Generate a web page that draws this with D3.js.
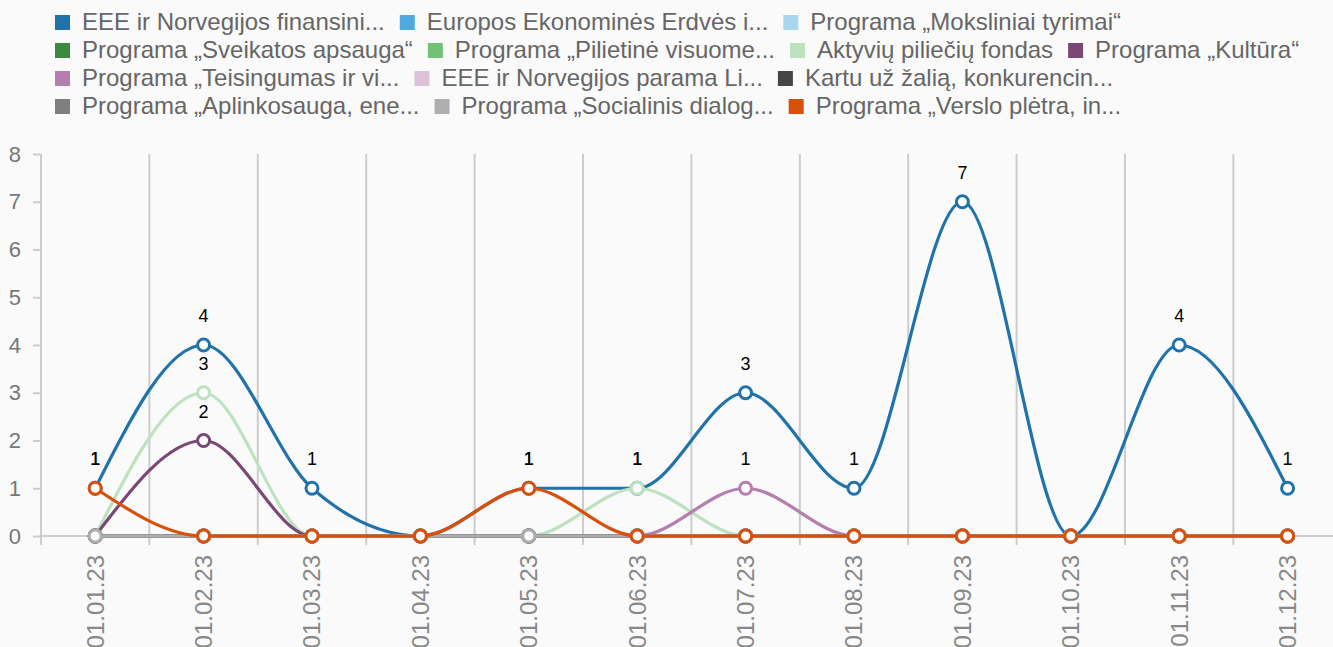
<!DOCTYPE html>
<html>
<head>
<meta charset="utf-8">
<script src="https://cdn.jsdelivr.net/npm/d3@7"></script>
<style>
  html, body { margin: 0; padding: 0; background: #fafafa; }
  svg { display: block; font-family: 'Liberation Sans', Arial, sans-serif; }
</style>
</head>
<body>
<script>
const months = ['01.01.23', '01.02.23', '01.03.23', '01.04.23', '01.05.23', '01.06.23',
  '01.07.23', '01.08.23', '01.09.23', '01.10.23', '01.11.23', '01.12.23']

const seriesNames = [
  'EEE ir Norvegijos finansini...',
  'Europos Ekonominės Erdvės i...',
  'Programa „Moksliniai tyrimai“',
  'Programa „Sveikatos apsauga“',
  'Programa „Pilietinė visuome...',
  'Aktyvių piliečių fondas',
  'Programa „Kultūra“',
  'Programa „Teisingumas ir vi...',
  'EEE ir Norvegijos parama Li...',
  'Kartu už žalią, konkurencin...',
  'Programa „Aplinkosauga, ene...',
  'Programa „Socialinis dialog...',
  'Programa „Verslo plėtra, in...'
]

const seriesColors = ['#1f72aa', '#52a9e0', '#a9d6ef', '#3a8a3f', '#72c177', '#bce2bf',
  '#7a4874', '#b47fae', '#dcc1d9', '#454545', '#7f7f7f', '#aeaeae', '#d9500c']

const eeeFinansinis = [1, 4, 1, 0, 1, 1, 3, 1, 7, 0, 4, 1]
const europosErdves = [0, 0, 0, 0, 0, 0, 0, 0, 0, 0, 0, 0]
const moksliniai = [0, 0, 0, 0, 0, 0, 0, 0, 0, 0, 0, 0]
const sveikatos = [0, 0, 0, 0, 0, 0, 0, 0, 0, 0, 0, 0]
const pilietine = [0, 0, 0, 0, 0, 0, 0, 0, 0, 0, 0, 0]
const aktyviuPilieciu = [0, 3, 0, 0, 0, 1, 0, 0, 0, 0, 0, 0]
const kultura = [0, 2, 0, 0, 0, 0, 0, 0, 0, 0, 0, 0]
const teisingumas = [0, 0, 0, 0, 0, 0, 1, 0, 0, 0, 0, 0]
const eeeParama = [0, 0, 0, 0, 0, 0, 0, 0, 0, 0, 0, 0]
const kartuUzZalia = [0, 0, 0, 0, 0, 0, 0, 0, 0, 0, 0, 0]
const aplinkosauga = [0, 0, 0, 0, 0, 0, 0, 0, 0, 0, 0, 0]
const socialinis = [0, 0, 0, 0, 0, 0, 0, 0, 0, 0, 0, 0]
const verslo = [1, 0, 0, 0, 1, 0, 0, 0, 0, 0, 0, 0]

const yTicks = [0, 1, 2, 3, 4, 5, 6, 7, 8]

const seriesValues = [eeeFinansinis, europosErdves, moksliniai, sveikatos, pilietine,
  aktyviuPilieciu, kultura, teisingumas, eeeParama, kartuUzZalia, aplinkosauga, socialinis, verslo]

const series = seriesNames.map((name, i) => ({
  name,
  color: seriesColors[i],
  points: seriesValues[i].map((v, j) => ({ month: months[j], value: v }))
}))

const WIDTH = 1333, HEIGHT = 647
const M = { left: 41, top: 154, bottom: 536 }

const svg = d3.select('body').append('svg')
  .attr('width', WIDTH)
  .attr('height', HEIGHT)

// legend, flowing left to right and wrapping
const legend = svg.append('g').attr('class', 'legend')
let lx = 55, ly = 22
const legendMaxX = 1333
series.forEach(s => {
  const item = legend.append('g')
  item.append('rect')
    .attr('width', 15).attr('height', 15)
    .attr('y', -7)
    .attr('fill', s.color)
  const txt = item.append('text')
    .attr('x', 27)
    .attr('dy', '0.35em')
    .attr('font-size', 24)
    .attr('fill', '#666')
    .text(s.name)
  const w = 27 + txt.node().getComputedTextLength()
  if (lx + w > legendMaxX) {
    lx = 55
    ly += 28
  }
  item.attr('transform', `translate(${lx},${ly})`)
  lx += w + 15
})

const x = d3.scaleBand()
  .domain(months)
  .range([M.left, M.left + 108.4 * months.length])

const y = d3.scaleLinear()
  .domain([0, 8])
  .range([M.bottom, M.top])

// vertical grid at band edges
const edges = months.map(m => x(m))
svg.append('g').attr('class', 'grid')
  .selectAll('line')
  .data(edges.slice(1))
  .join('line')
  .attr('x1', d => d).attr('x2', d => d)
  .attr('y1', M.top).attr('y2', M.bottom + 9)
  .attr('stroke', '#ccc')
  .attr('stroke-width', 2)

// y axis
const yAxis = svg.append('g')
  .attr('transform', `translate(${M.left},0)`)
  .call(d3.axisLeft(y).tickValues(yTicks).tickSize(8).tickPadding(12).tickFormat(d3.format('d')))
yAxis.select('.domain').remove()
yAxis.append('line')
  .attr('x1', 0).attr('x2', 0)
  .attr('y1', M.top).attr('y2', M.bottom + 9)
  .attr('stroke', '#ccc').attr('stroke-width', 2)
yAxis.selectAll('.tick line').attr('stroke', '#ccc').attr('stroke-width', 2)
yAxis.selectAll('.tick text')
  .attr('font-size', 22)
  .attr('font-family', "'Liberation Sans', Arial, sans-serif")
  .attr('fill', '#777')

// x axis baseline and labels
svg.append('line')
  .attr('x1', M.left).attr('x2', WIDTH)
  .attr('y1', M.bottom).attr('y2', M.bottom)
  .attr('stroke', '#ccc').attr('stroke-width', 2)

svg.append('g').attr('class', 'x-labels')
  .selectAll('text')
  .data(months)
  .join('text')
  .attr('transform', d => `translate(${x(d) + x.bandwidth() / 2},555) rotate(-90)`)
  .attr('text-anchor', 'end')
  .attr('dy', '0.35em')
  .attr('font-size', 24)
  .attr('fill', '#888')
  .text(d => d)

// lines
const line = d3.line()
  .x(d => x(d.month) + x.bandwidth() / 2)
  .y(d => y(d.value))
  .curve(d3.curveMonotoneX)

const seriesG = svg.append('g').attr('class', 'series')
  .selectAll('g')
  .data(series)
  .join('g')

seriesG.append('path')
  .attr('d', s => line(s.points))
  .attr('fill', 'none')
  .attr('stroke', s => s.color)
  .attr('stroke-width', 3.2)

seriesG.selectAll('circle')
  .data(s => s.points.map(p => ({ ...p, color: s.color })))
  .join('circle')
  .attr('cx', d => x(d.month) + x.bandwidth() / 2)
  .attr('cy', d => y(d.value))
  .attr('r', 6)
  .attr('fill', '#fff')
  .attr('stroke', d => d.color)
  .attr('stroke-width', 3)

// value labels for non-zero points
const labels = []
series.forEach(s => s.points.forEach(p => { if (p.value > 0) labels.push(p) }))
svg.append('g').attr('class', 'value-labels')
  .selectAll('text')
  .data(labels)
  .join('text')
  .attr('x', d => x(d.month) + x.bandwidth() / 2)
  .attr('y', d => y(d.value) - 23)
  .attr('text-anchor', 'middle')
  .attr('font-size', 18)
  .attr('fill', '#000')
  .text(d => d.value)
</script>
</body>
</html>
